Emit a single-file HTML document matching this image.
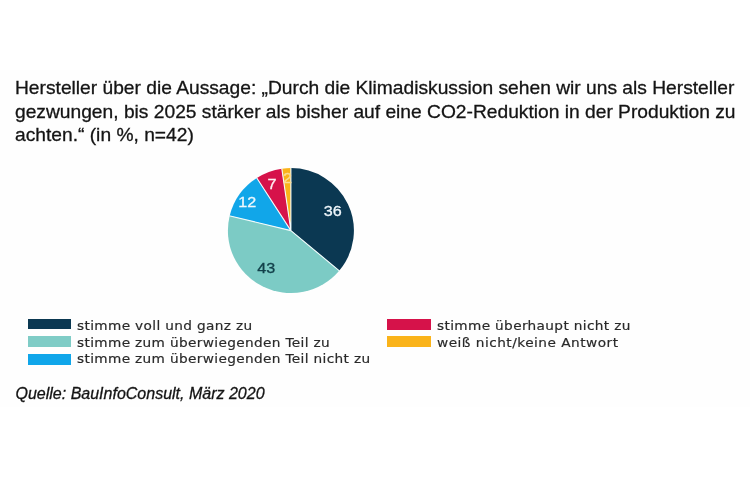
<!DOCTYPE html>
<html lang="de"><head><meta charset="utf-8">
<style>
html,body{margin:0;padding:0;background:#fff;}
body{width:750px;height:482px;position:relative;overflow:hidden;font-family:"Liberation Sans",sans-serif;color:#1a1a1a;}
.t{position:absolute;left:15px;white-space:nowrap;color:#141414;-webkit-text-stroke:0.3px #141414;font-size:19.22px;line-height:23.4px;}
.lg{position:absolute;white-space:nowrap;font-family:"DejaVu Sans",sans-serif;font-size:12.9px;line-height:17px;color:#2a2a2a;letter-spacing:0.33px;word-spacing:0px;-webkit-text-stroke:0.2px #2a2a2a;transform:scaleX(1.06);transform-origin:0 0;}
.sw{position:absolute;width:43.7px;height:10.7px;}
.src{position:absolute;left:15.5px;top:385.1px;font-style:italic;font-size:16px;color:#141414;-webkit-text-stroke:0.3px #141414;white-space:nowrap;}
svg{position:absolute;left:0;top:0;}
#wrap{position:absolute;left:0;top:0;width:750px;height:482px;filter:blur(0.45px);}
</style></head><body><div id="wrap">
<div id="bgimg" style="position:absolute;left:0;top:70px;width:750px;height:337px;background:#fefefe"></div>
<div class="t" id="l1" style="top:76.4px">Hersteller über die Aussage: „Durch die Klimadiskussion sehen wir uns als Hersteller</div>
<div class="t" id="l2" style="top:100.1px">gezwungen, bis 2025 stärker als bisher auf eine CO2-Reduktion in der Produktion zu</div>
<div class="t" id="l3" style="top:123.2px">achten.“ (in %, n=42)</div>
<svg width="750" height="482" viewBox="0 0 750 482">
<g id="pie">
<path d="M290.9 230.6 L290.90 168.10 A63.0 62.5 0 0 1 339.19 270.74 Z" fill="#0b3852"/>
<path d="M290.9 230.6 L339.19 270.74 A63.0 62.5 0 0 1 229.69 215.82 Z" fill="#7ccbc5"/>
<path d="M290.9 230.6 L229.69 215.82 A63.0 62.5 0 0 1 256.81 178.04 Z" fill="#11a6e9"/>
<path d="M290.9 230.6 L256.81 178.04 A63.0 62.5 0 0 1 281.83 168.75 Z" fill="#d6124a"/>
<path d="M290.9 230.6 L281.83 168.75 A63.0 62.5 0 0 1 290.90 168.10 Z" fill="#fab31a"/>
<path d="M290.9 230.6L290.90 167.47M290.9 230.6L339.67 271.14M290.9 230.6L229.08 215.67M290.9 230.6L256.47 177.52M290.9 230.6L281.74 168.13" fill="none" stroke="#f2fbfb" stroke-width="1.1" stroke-linecap="butt"/>
<text transform="translate(332.75 215.9) scale(1.07 1)" fill="#eef6fb" font-family="Liberation Sans, sans-serif" font-size="15.1" stroke="#eef6fb" stroke-width="0.3" text-anchor="middle">36</text>
<text transform="translate(266.3 273.3) scale(1.07 1)" fill="#12404a" font-family="Liberation Sans, sans-serif" font-size="15.1" stroke="#12404a" stroke-width="0.3" text-anchor="middle">43</text>
<text transform="translate(247.3 207.4) scale(1.07 1)" fill="#eef8fd" font-family="Liberation Sans, sans-serif" font-size="15.1" stroke="#eef8fd" stroke-width="0.3" text-anchor="middle">12</text>
<text transform="translate(271.9 188.7) scale(1.07 1)" fill="#fdeef2" font-family="Liberation Sans, sans-serif" font-size="15.1" stroke="#fdeef2" stroke-width="0.3" text-anchor="middle">7</text>
<text transform="translate(287.4 182.7) scale(1.07 1)" fill="#fbdc96" font-family="Liberation Sans, sans-serif" font-size="15.1" stroke="#fbdc96" stroke-width="0.3" text-anchor="middle">2</text>
</g>
</svg>
<div class="sw" style="left:27.7px;top:318.8px;background:#0b3852"></div>
<div class="sw" style="left:27.7px;top:336.2px;background:#7fccc6"></div>
<div class="sw" style="left:27.7px;top:354.1px;background:#10a6ea"></div>
<div class="sw" style="left:386.9px;top:318.7px;height:10.9px;width:44px;background:#d6124a"></div>
<div class="sw" style="left:386.9px;top:336.1px;height:11px;width:44px;background:#fab31a"></div>
<div class="lg" style="left:77px;top:316.6px">stimme voll und ganz zu</div>
<div class="lg" style="left:77px;top:333.5px">stimme zum überwiegenden Teil zu</div>
<div class="lg" style="left:77px;top:350.3px">stimme zum überwiegenden Teil nicht zu</div>
<div class="lg" style="left:437px;top:316.6px">stimme überhaupt nicht zu</div>
<div class="lg" style="left:437px;top:333.5px;letter-spacing:0.46px">weiß nicht/keine Antwort</div>
<div class="src">Quelle: BauInfoConsult, März 2020</div>
</div></body></html>
